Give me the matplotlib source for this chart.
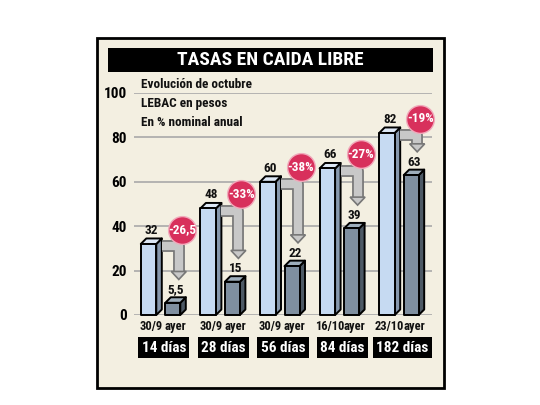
import matplotlib
matplotlib.use('Agg')
import matplotlib.pyplot as plt
import matplotlib.patches as mpatches
import matplotlib.patheffects as pe
from matplotlib import font_manager

# data
groups = ['14 días', '28 días', '56 días', '84 días', '182 días']
dates = ['30/9', '30/9', '30/9', '16/10', '23/10']
before = [32, 48, 60, 66, 82]
after = [5.5, 15, 22, 39, 63]
after_labels = ['5,5', '15', '22', '39', '63']
changes = ['-26,5', '-33%', '-38%', '-27%', '-19%']
yticks = [0, 20, 40, 60, 80, 100]

names = {f.name for f in font_manager.fontManager.ttflist}
FONT = 'DejaVu Sans'
for cand in ['Roboto Condensed', 'Archivo Narrow', 'PT Sans Narrow', 'Fira Sans Condensed',
             'Barlow Semi Condensed', 'Liberation Sans Narrow']:
    if cand in names:
        FONT = cand
        break

W, H = 540, 405
fig = plt.figure(figsize=(W / 100, H / 100), dpi=100)
fig.patch.set_facecolor('white')

# panel
fig.patches.append(mpatches.Rectangle((97 / W, 1 - 388 / H), 347 / W, 350 / H,
                                      transform=fig.transFigure, facecolor='#f3efe1',
                                      edgecolor='black', lw=2, zorder=0))
fig.patches.append(mpatches.Rectangle((108 / W, 1 - 72 / H), 325 / W, 24 / H,
                                      transform=fig.transFigure, facecolor='black',
                                      edgecolor='none', zorder=1))
fig.text(270 / W, 1 - 60 / H, 'TASAS EN CAIDA LIBRE', color='white', fontsize=14,
         fontweight='bold', family=FONT, ha='center', va='center', zorder=2)
for k, line in enumerate(['Evolución de octubre', 'LEBAC en pesos', 'En % nominal anual']):
    fig.text(141 / W, 1 - (85 + 18.5 * k) / H, line, fontsize=9.5, fontweight='bold',
             family=FONT, ha='left', va='center', color='#111', zorder=3)

ax_l, ax_r, ax_t, ax_b = 134, 432, 93, 315
ax = fig.add_axes([ax_l / W, 1 - ax_b / H, (ax_r - ax_l) / W, (ax_b - ax_t) / H])
ax.set_zorder(2)
ax.set_facecolor('none')
ax.set_xlim(0, 5)
ax.set_ylim(0, 100)
ax.set_yticks(yticks)
ax.set_xticks([])
ax.tick_params(axis='y', length=0, pad=5)
for lab in ax.get_yticklabels():
    lab.set_fontweight('bold')
    lab.set_fontsize(11)
    lab.set_family(FONT)
for s in ax.spines.values():
    s.set_visible(False)
ax.grid(axis='y', color='#a9a9a9', lw=1.2)
ax.set_axisbelow(True)

px_x = 5 / (ax_r - ax_l)      # data units per pixel
px_y = 100 / (ax_b - ax_t)
dx, dy = 5.5 * px_x, 5.5 * px_y


def bar3d(x0, x1, v, front, top, side):
    kw = dict(edgecolor='black', lw=1.4, joinstyle='round', zorder=3, clip_on=False)
    ax.add_patch(mpatches.Polygon([(x1, 0), (x1 + dx, dy), (x1 + dx, v + dy), (x1, v)],
                                  facecolor=side, **kw))
    ax.add_patch(mpatches.Polygon([(x0, v), (x1, v), (x1 + dx, v + dy), (x0 + dx, v + dy)],
                                  facecolor=top, **kw))
    ax.add_patch(mpatches.Rectangle((x0, 0), x1 - x0, v, facecolor=front, **kw))


for i in range(len(groups)):
    c = i + 0.5
    lx0, lx1 = c - 23 * px_x, c - 7.5 * px_x
    dx0, dx1 = c + 1.5 * px_x, c + 16.5 * px_x
    bar3d(lx0, lx1, before[i], '#c6daf2', '#dce7f5', '#8798ad')
    bar3d(dx0, dx1, after[i], '#7f8fa0', '#9eaebc', '#4d5965')

    ax.text((lx0 + lx1) / 2 + dx / 2, before[i] + dy + 0.8, str(before[i]), ha='center',
            va='bottom', fontsize=9.5, fontweight='bold', family=FONT, color='#111')
    ax.text((dx0 + dx1) / 2 + dx / 2, after[i] + dy + 0.5, after_labels[i], ha='center',
            va='bottom', fontsize=9.5, fontweight='bold', family=FONT, color='#111')

    ax.text((lx0 + lx1) / 2 + dx / 2, -5, dates[i], ha='center', va='center', fontsize=9,
            fontweight='bold', family=FONT, color='#111')
    ax.text((dx0 + dx1) / 2 + dx / 2, -5, 'ayer', ha='center', va='center', fontsize=9,
            fontweight='bold', family=FONT, color='#111')
    ax.text(c, -14.8, groups[i], ha='center', va='center', fontsize=11, fontweight='bold',
            family=FONT, color='white',
            bbox=dict(boxstyle='square,pad=0.22', facecolor='black', edgecolor='none'))

    # arrow
    ax0 = lx1 + dx
    ay0 = before[i] - 1
    axx = c + 15 * px_x
    tip = after[i] + 10.5
    head_len = 8 * px_y
    ax.plot([ax0, axx, axx], [ay0, ay0, tip + head_len], color='#c8c8c8', lw=6,
            solid_joinstyle='round', solid_capstyle='butt', zorder=4, clip_on=False,
            path_effects=[pe.Stroke(linewidth=8.5, foreground='#777777'), pe.Normal()])
    hw = 7.5 * px_x
    ax.add_patch(mpatches.Polygon([(axx - hw, tip + head_len), (axx + hw, tip + head_len),
                                   (axx, tip)], facecolor='#c8c8c8', edgecolor='#777777',
                                  lw=1.2, zorder=5, clip_on=False))

    # badge
    by = before[i] + 6.5
    bx = c + 18 * px_x
    ax.scatter([bx], [by], s=400, color='#d8305c', edgecolor='#f1a9bb', lw=1,
               zorder=6, clip_on=False)
    ax.text(bx, by, changes[i], ha='center', va='center', fontsize=9.5, fontweight='bold',
            family=FONT, color='white', zorder=7)

fig.savefig('out.png', dpi=100, facecolor='white')
